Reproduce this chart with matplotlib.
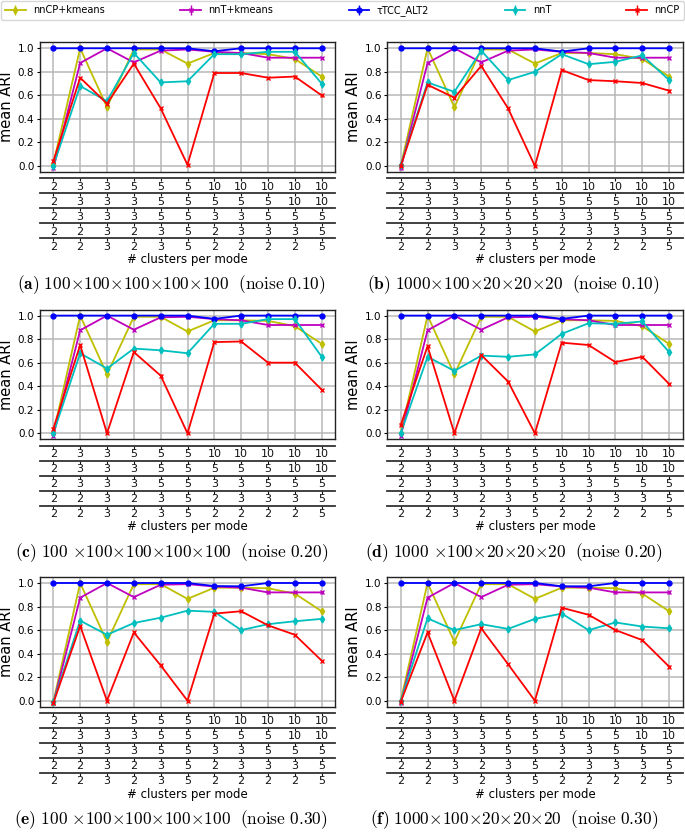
import matplotlib
matplotlib.use("Agg")
import matplotlib.pyplot as plt
import numpy as np

plt.rcParams['mathtext.fontset'] = 'cm'

# ---------------- data ----------------
methods = ["nnCP+kmeans", "nnT+kmeans", "τTCC_ALT2", "nnT", "nnCP"]
colors = ["#bfbf00", "#bf00bf", "#0000ff", "#00bfbf", "#ff0000"]
markers = ["d", "x", "o", "d", "x"]

# cluster configurations (one row per mode)
mode1 = [2, 3, 3, 5, 5, 5, 10, 10, 10, 10, 10]
mode2 = [2, 3, 3, 3, 5, 5, 5, 5, 5, 10, 10]
mode3 = [2, 3, 3, 3, 5, 5, 3, 3, 5, 5, 5]
mode4 = [2, 2, 3, 2, 3, 5, 2, 3, 3, 3, 5]
mode5 = [2, 2, 3, 2, 3, 5, 2, 2, 2, 2, 5]
config_rows = [mode1, mode2, mode3, mode4, mode5]

# panel (a)
a_nnCPk = [0.02, 1.00, 0.50, 0.99, 0.99, 0.87, 0.96, 0.96, 0.95, 0.91, 0.76]
a_nnTk  = [-0.02, 0.875, 1.00, 0.88, 0.98, 0.99, 0.97, 0.96, 0.92, 0.92, 0.92]
a_tcc   = [1.00, 1.00, 1.00, 1.00, 1.00, 1.00, 0.975, 1.00, 1.00, 1.00, 1.00]
a_nnT   = [0.00, 0.68, 0.55, 0.96, 0.71, 0.72, 0.95, 0.95, 0.97, 0.97, 0.70]
a_nnCP  = [0.04, 0.75, 0.53, 0.87, 0.49, 0.01, 0.79, 0.79, 0.75, 0.76, 0.60]
# panel (b)
b_nnCPk = [0.00, 1.00, 0.50, 0.99, 0.99, 0.87, 0.96, 0.96, 0.95, 0.91, 0.76]
b_nnTk  = [-0.02, 0.875, 1.00, 0.88, 0.98, 0.99, 0.97, 0.96, 0.92, 0.92, 0.92]
b_tcc   = [1.00, 1.00, 1.00, 1.00, 1.00, 1.00, 0.972, 1.00, 1.00, 1.00, 1.00]
b_nnT   = [0.01, 0.71, 0.63, 0.98, 0.73, 0.80, 0.95, 0.865, 0.885, 0.94, 0.73]
b_nnCP  = [0.00, 0.69, 0.58, 0.85, 0.49, 0.00, 0.815, 0.73, 0.72, 0.705, 0.64]
# panel (c)
c_nnCPk = [0.00, 1.00, 0.50, 0.99, 0.99, 0.865, 0.96, 0.96, 0.955, 0.91, 0.76]
c_nnTk  = [-0.02, 0.875, 1.00, 0.88, 0.985, 0.99, 0.97, 0.96, 0.92, 0.92, 0.92]
c_tcc   = [1.00, 1.00, 1.00, 1.00, 1.00, 1.00, 0.972, 1.00, 1.00, 1.00, 1.00]
c_nnT   = [0.00, 0.68, 0.55, 0.72, 0.705, 0.68, 0.93, 0.93, 0.97, 0.97, 0.65]
c_nnCP  = [0.04, 0.75, 0.00, 0.69, 0.49, 0.00, 0.775, 0.78, 0.60, 0.60, 0.37]
# panel (d)
d_nnCPk = [0.00, 1.00, 0.50, 0.99, 0.99, 0.865, 0.96, 0.96, 0.955, 0.91, 0.76]
d_nnTk  = [-0.02, 0.875, 1.00, 0.88, 0.985, 0.99, 0.97, 0.96, 0.92, 0.92, 0.92]
d_tcc   = [1.00, 1.00, 1.00, 1.00, 1.00, 1.00, 0.972, 1.00, 1.00, 1.00, 1.00]
d_nnT   = [0.00, 0.65, 0.53, 0.66, 0.65, 0.67, 0.845, 0.935, 0.93, 0.95, 0.69]
d_nnCP  = [0.07, 0.74, 0.00, 0.665, 0.44, 0.00, 0.77, 0.75, 0.605, 0.65, 0.42]
# panel (e)
e_nnCPk = [-0.01, 1.00, 0.50, 0.99, 0.99, 0.865, 0.96, 0.96, 0.955, 0.91, 0.76]
e_nnTk  = [-0.02, 0.875, 1.00, 0.88, 0.985, 0.99, 0.97, 0.96, 0.92, 0.92, 0.92]
e_tcc   = [1.00, 1.00, 1.00, 1.00, 1.00, 1.00, 0.974, 0.972, 1.00, 1.00, 1.00]
e_nnT   = [-0.01, 0.68, 0.56, 0.66, 0.705, 0.765, 0.755, 0.60, 0.65, 0.675, 0.695]
e_nnCP  = [-0.02, 0.635, 0.00, 0.58, 0.30, 0.00, 0.74, 0.76, 0.64, 0.56, 0.34]
# panel (f)
f_nnCPk = [0.00, 1.00, 0.50, 0.99, 0.99, 0.865, 0.96, 0.96, 0.955, 0.91, 0.76]
f_nnTk  = [-0.02, 0.875, 1.00, 0.88, 0.985, 0.99, 0.97, 0.96, 0.92, 0.92, 0.92]
f_tcc   = [1.00, 1.00, 1.00, 1.00, 1.00, 1.00, 0.972, 0.972, 1.00, 1.00, 1.00]
f_nnT   = [0.00, 0.70, 0.60, 0.65, 0.61, 0.695, 0.74, 0.60, 0.665, 0.63, 0.615]
f_nnCP  = [-0.01, 0.58, 0.00, 0.615, 0.31, 0.00, 0.79, 0.73, 0.60, 0.515, 0.29]

# approximate spread (small error bars visible around markers)
ERR = 0.01

panels = [
    ("a", "100{\\times}100{\\times}100{\\times}100{\\times}100", "0.10",
     [a_nnCPk, a_nnTk, a_tcc, a_nnT, a_nnCP]),
    ("b", "1000{\\times}100{\\times}20{\\times}20{\\times}20", "0.10",
     [b_nnCPk, b_nnTk, b_tcc, b_nnT, b_nnCP]),
    ("c", "100\\ {\\times}100{\\times}100{\\times}100{\\times}100", "0.20",
     [c_nnCPk, c_nnTk, c_tcc, c_nnT, c_nnCP]),
    ("d", "1000\\ {\\times}100{\\times}20{\\times}20{\\times}20", "0.20",
     [d_nnCPk, d_nnTk, d_tcc, d_nnT, d_nnCP]),
    ("e", "100\\ {\\times}100{\\times}100{\\times}100{\\times}100", "0.30",
     [e_nnCPk, e_nnTk, e_tcc, e_nnT, e_nnCP]),
    ("f", "1000{\\times}100{\\times}20{\\times}20{\\times}20", "0.30",
     [f_nnCPk, f_nnTk, f_tcc, f_nnT, f_nnCP]),
]

# ---------------- layout ----------------
W, H = 685, 840
fig = plt.figure(figsize=(W / 100, H / 100), dpi=100)

col_left_px = [39.9, 387.3]
ax_w_px = 295.2
ax_h_px = 129.5
row_bottom_px = [171.9, 439.2, 706.6]   # from top
table_offsets_px = [6.4, 21.4, 36.4, 51.4, 66.4]

x = np.arange(len(mode1))
handles = None
for idx, (letter, dims, noise, series) in enumerate(panels):
    r, c = divmod(idx, 2)
    left = col_left_px[c] / W
    bottom = 1 - row_bottom_px[r] / H
    ax = fig.add_axes([left, bottom, ax_w_px / W, ax_h_px / H])
    hs = []
    for vals, col, mk, lab in zip(series, colors, markers, methods):
        h = ax.errorbar(x, vals, yerr=ERR, color=col, marker=mk, ms=3.5,
                        mew=1.0, lw=1.3, elinewidth=1.0, label=lab)
        hs.append(h)
    if handles is None:
        handles = hs
    ax.set_xlim(-0.5, len(x) - 0.5)
    ax.set_ylim(-0.05, 1.05)
    ax.set_yticks(np.arange(0, 1.01, 0.2))
    ax.set_yticklabels([f"{v:.1f}" for v in np.arange(0, 1.01, 0.2)])
    ax.set_xticks(x)
    ax.tick_params(axis='x', length=0, labelbottom=False)
    ax.tick_params(axis='y', length=2, labelsize=7.5, pad=2)
    ax.grid(True, color="#b8b8b8", lw=1.1)
    ax.set_axisbelow(True)
    ax.set_ylabel("mean ARI", fontsize=10.5, labelpad=3)
    for sp in ax.spines.values():
        sp.set_linewidth(1.0)
        sp.set_color("#222222")

    # stacked configuration axes
    for k, (off, row) in enumerate(zip(table_offsets_px, config_rows)):
        sec = ax.secondary_xaxis(-off / ax_h_px)
        sec.set_xticks(x)
        sec.set_xticklabels([str(v) for v in row])
        sec.tick_params(axis='x', length=2, width=0.8, labelsize=8, pad=0.5,
                        colors="#111111")
        sec.spines['bottom'].set_linewidth(1.3)
        sec.spines['bottom'].set_color("#333333")
        if k == len(config_rows) - 1:
            sec.set_xlabel("# clusters per mode", fontsize=8.5, labelpad=1)

    cap = (r"$\mathbf{(" + letter + r")}\ " + dims +
           r"\ \ \mathrm{(noise\ " + noise + r")}$")
    fig.text(0.25 + 0.5 * c, 1 - (row_bottom_px[r] + 113) / H, cap,
             ha="center", va="center", fontsize=12.5)

fig.legend(handles, methods, loc="upper left", ncol=5, mode="expand",
           bbox_to_anchor=(0.002, 0.9985, 0.996, 0.0), borderaxespad=0,
           fontsize=7, handlelength=2.1, frameon=True)

fig.savefig("out.png", dpi=100)
